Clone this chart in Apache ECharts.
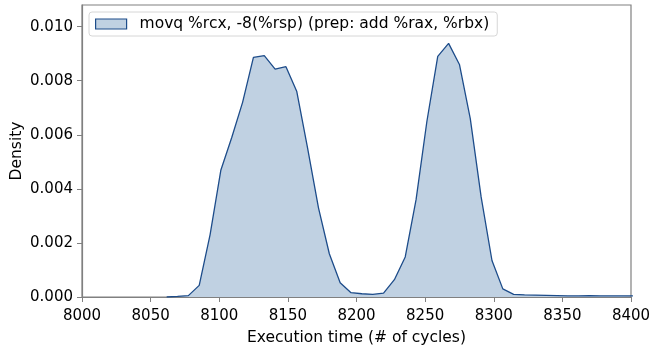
<!DOCTYPE html>
<html>
<head>
<meta charset="utf-8">
<script src="https://cdn.jsdelivr.net/npm/echarts@6/dist/echarts.min.js"></script>
<style>
html, body { margin: 0; padding: 0; background: #fff; }
#chart { width: 665px; height: 349px; }
</style>
</head>
<body>
<div id="chart"></div>
<script>
// 数据: 执行时间 (cycles) 与密度
var seriesName = 'movq %rcx, -8(%rsp) (prep: add %rax, %rbx)';
var cycles = [8061.7, 8069.6, 8077.5, 8085.4, 8093.3, 8101.2, 8109.1, 8117.0, 8124.9, 8132.8,
	8140.7, 8148.6, 8156.5, 8164.4, 8172.3, 8180.2, 8188.1, 8196.0, 8203.9, 8211.8,
	8219.7, 8227.6, 8235.5, 8243.4, 8251.3, 8259.2, 8267.1, 8275.0, 8282.9, 8290.8,
	8298.7, 8306.6, 8314.5, 8322.4, 8330.3, 8338.2, 8346.1, 8354.0, 8361.9, 8369.8,
	8377.7, 8385.6, 8393.5, 8401.4];
var density = [0.0, 0.00002, 0.00005, 0.00043, 0.0023, 0.0047, 0.0059, 0.0072, 0.00886, 0.00893,
	0.00843, 0.00852, 0.0076, 0.0055, 0.0033, 0.0016, 0.00053, 0.00016, 0.00012, 0.0001,
	0.00014, 0.00064, 0.00148, 0.0036, 0.0065, 0.0089, 0.00938, 0.0086, 0.0066, 0.0037,
	0.00135, 0.0003, 0.0001, 0.00008, 0.00007, 0.00006, 0.00005, 0.00004, 0.00004, 0.00005,
	0.00004, 0.00004, 0.00004, 0.00004];
var xTicks = [8000, 8400, 50];
var yTicks = [0, 0.0108, 0.002];

var font = 'DejaVu Sans';
var lineColor = '#1d4c8a';
var fillColor = '#c0d1e2';
var axisColor = '#808080';

var points = [];
for (var i = 0; i < cycles.length; i++) {
	points.push([cycles[i], density[i]]);
}

var chart = echarts.init(document.getElementById('chart'));
chart.setOption({
	animation : false,
	textStyle : {
		fontFamily : font
	},
	grid : {
		left : 82,
		right : 34,
		top : 5,
		bottom : 52,
		outerBoundsMode : 'none',
		containLabel : false,
		show : true,
		borderColor : axisColor,
		borderWidth : 1.2
	},
	legend : {
		left : 89,
		top : 12,
		padding : [4, 8, 4, 6],
		backgroundColor : 'rgba(255,255,255,0.8)',
		borderColor : '#d6d6d6',
		borderWidth : 1,
		borderRadius : 3,
		itemWidth : 31,
		itemHeight : 10,
		icon : 'rect',
		textStyle : {
			fontFamily : font,
			fontSize : 15.5,
			color : '#000',
			padding : [0, 0, 0, 8]
		},
		data : [ {
			name : seriesName,
			itemStyle : {
				color : fillColor,
				borderColor : lineColor,
				borderWidth : 1.2
			}
		} ]
	},
	xAxis : {
		type : 'value',
		min : xTicks[0],
		max : xTicks[1],
		interval : xTicks[2],
		name : 'Execution time (# of cycles)',
		nameLocation : 'middle',
		nameGap : 33,
		nameMoveOverlap : false,
		nameTextStyle : {
			fontFamily : font,
			fontSize : 15.5,
			color : '#000'
		},
		splitLine : { show : false },
		axisLine : { onZero : false, lineStyle : { color : axisColor, width : 1.2 } },
		axisTick : { show : true, length : 5, lineStyle : { color : axisColor } },
		axisLabel : {
			margin : 12,
			fontFamily : font,
			fontSize : 15,
			color : '#000',
			formatter : function(v) {
				return String(v);
			}
		}
	},
	yAxis : {
		type : 'value',
		min : yTicks[0],
		max : yTicks[1],
		interval : yTicks[2],
		name : 'Density',
		nameLocation : 'middle',
		nameGap : 57,
		nameMoveOverlap : false,
		nameTextStyle : {
			fontFamily : font,
			fontSize : 15.5,
			color : '#000'
		},
		splitLine : { show : false },
		axisLine : { show : true, lineStyle : { color : axisColor, width : 1.2 } },
		axisTick : { show : true, length : 5, lineStyle : { color : axisColor } },
		axisLabel : {
			margin : 9,
			fontFamily : font,
			fontSize : 15,
			color : '#000',
			showMaxLabel : false,
			formatter : function(v) {
				return v.toFixed(3);
			}
		}
	},
	series : [ {
		name : seriesName,
		type : 'line',
		data : points,
		symbol : 'none',
		clip : true,
		lineStyle : {
			color : lineColor,
			width : 1.3
		},
		itemStyle : {
			color : fillColor,
			borderColor : lineColor
		},
		areaStyle : {
			color : fillColor,
			opacity : 1
		}
	} ]
});
</script>
</body>
</html>
